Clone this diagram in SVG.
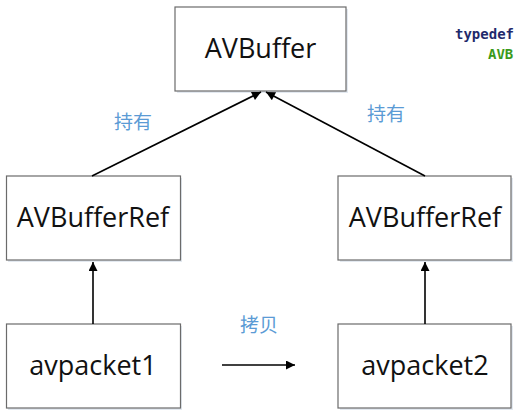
<svg xmlns="http://www.w3.org/2000/svg" width="516" height="415" viewBox="0 0 516 415">
<defs>
<marker id="ah" viewBox="0 0 10 10" refX="10" refY="5" markerWidth="11" markerHeight="9" markerUnits="userSpaceOnUse" orient="auto">
<path d="M0,0 L10,5 L0,10 Z" fill="#000"/>
</marker>
<style>
.box{fill:#fff;stroke:#6b6b6b;stroke-width:1.2}
.shadow{fill:#e3e9f0}
.lbl{font-family:"Open Sans","Noto Sans",sans-serif;font-size:27px;fill:#111;text-anchor:middle}
.cn{font-family:"Noto Sans CJK SC",sans-serif;font-size:19px;fill:#5b9bd5;text-anchor:middle}
.edge{stroke:#000;stroke-width:1.6;fill:none;marker-end:url(#ah)}
.code{font-family:"DejaVu Sans Mono",monospace;font-weight:bold;font-size:14px}
</style>
</defs>
<rect width="516" height="415" fill="#fff"/>
<g id="AVBuffer">
<rect class="shadow" x="177" y="9" width="171" height="84"/>
<rect class="box" x="175" y="7" width="171" height="84"/>
<text class="lbl" x="260.5" y="58">AVBuffer</text>
</g>
<g id="AVBufferRef1">
<rect class="shadow" x="8" y="178" width="174" height="84"/>
<rect class="box" x="6.5" y="176" width="174" height="84"/>
<text class="lbl" x="93" y="227">AVBufferRef</text>
</g>
<g id="AVBufferRef2">
<rect class="shadow" x="340" y="178" width="173" height="84"/>
<rect class="box" x="338" y="176" width="173" height="84"/>
<text class="lbl" x="425" y="227">AVBufferRef</text>
</g>
<g id="avpacket1">
<rect class="shadow" x="8" y="326" width="174" height="84"/>
<rect class="box" x="6.5" y="324" width="174" height="84"/>
<text class="lbl" x="93" y="375">avpacket1</text>
</g>
<g id="avpacket2">
<rect class="shadow" x="340" y="326" width="173" height="84"/>
<rect class="box" x="338" y="324" width="173" height="84"/>
<text class="lbl" x="425" y="375">avpacket2</text>
</g>
<g id="connectors">
<line class="edge" x1="92" y1="176" x2="261" y2="92"/>
<line class="edge" x1="425" y1="176" x2="266" y2="92"/>
<line class="edge" x1="93" y1="324" x2="93" y2="262"/>
<line class="edge" x1="425" y1="324" x2="425" y2="262"/>
<line class="edge" x1="222" y1="365" x2="295" y2="365"/>
<text class="cn" x="133" y="129">持有</text>
<text class="cn" x="386" y="121">持有</text>
<text class="cn" x="259" y="332">拷贝</text>
</g>
<text class="code" x="455" y="39" fill="#1f2a6b">typedef</text>
<text class="code" x="488" y="59" fill="#3a9a1a">AVB</text>
</svg>
